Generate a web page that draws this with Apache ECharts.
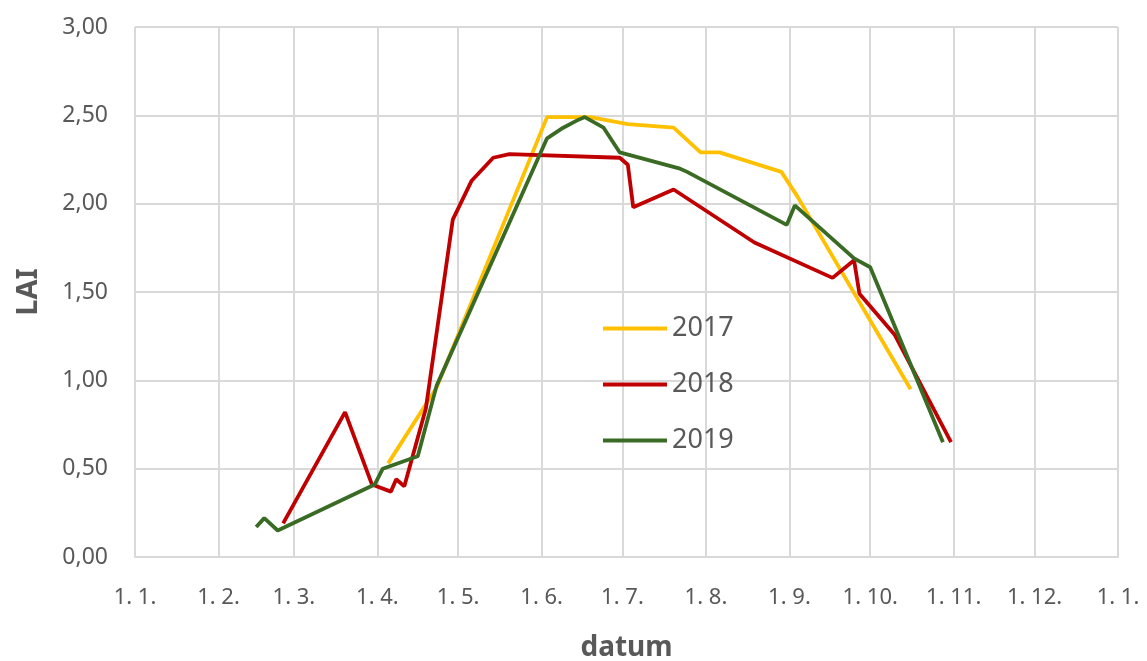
<!DOCTYPE html>
<html>
<head>
<meta charset="utf-8">
<script src="https://cdn.jsdelivr.net/npm/echarts@6/dist/echarts.min.js"></script>
<style>
html,body{margin:0;padding:0;background:#fff;}
#chart{width:1147px;height:661px;}
</style>
</head>
<body>
<div id="chart"></div>
<script>
// measured LAI values, dates as D.M.
var dates2017 = ['5.4.','23.4.','3.6.','19.6.','3.7.','20.7.','30.7.','6.8.','29.8.','4.9.','16.10.'];
var lai2017 = [0.53,0.96,2.49,2.49,2.45,2.43,2.29,2.29,2.18,2.04,0.95];

var dates2018 = ['25.2.','20.3.','30.3.','6.4.','8.4.','11.4.','19.4.','29.4.','6.5.','14.5.','20.5.','30.6.','3.7.','5.7.','20.7.','19.8.','17.9.','25.9.','27.9.','10.10.','31.10.'];
var lai2018 = [0.19,0.82,0.41,0.37,0.44,0.40,0.84,1.91,2.13,2.26,2.28,2.26,2.22,1.98,2.08,1.78,1.58,1.68,1.49,1.26,0.65];

var dates2019 = ['15.2.','18.2.','23.2.','31.3.','3.4.','16.4.','23.4.','3.6.','9.6.','14.6.','17.6.','24.6.','30.6.','22.7.','25.7.','31.8.','3.9.','25.9.','1.10.','28.10.'];
var lai2019 = [0.17,0.22,0.15,0.41,0.50,0.57,0.97,2.37,2.43,2.47,2.49,2.43,2.29,2.20,2.18,1.88,1.99,1.69,1.64,0.65];

var seriesNames = ['2017','2018','2019'];
var colors = ['#FFC000','#C00000','#3A6B24'];

// one category per day, 1.1. to 1.1. of next year
var days = [];
var monthStart = [];
for (var i = 0; i <= 365; i++) {
    var d = new Date(2017, 0, 1 + i);
    days.push(d.getDate() + '. ' + (d.getMonth() + 1) + '.');
    monthStart.push(d.getDate() === 1);
}

function dayIndex(s) {
    var p = s.split('.');
    var d = new Date(2017, parseInt(p[1]) - 1, parseInt(p[0]));
    return Math.round((d - new Date(2017, 0, 1)) / 86400000);
}

function toPairs(dates, vals) {
    var out = [];
    for (var i = 0; i < dates.length; i++) {
        out.push([dayIndex(dates[i]), vals[i]]);
    }
    return out;
}

var dataSets = [toPairs(dates2017, lai2017), toPairs(dates2018, lai2018), toPairs(dates2019, lai2019)];

var series = [];
for (var k = 0; k < seriesNames.length; k++) {
    series.push({
        name: seriesNames[k],
        type: 'line',
        symbol: 'none',
        data: dataSets[k],
        lineStyle: {color: colors[k], width: 3.8},
        itemStyle: {color: colors[k]}
    });
}

var font = 'Noto Sans';
var chart = echarts.init(document.getElementById('chart'));
chart.setOption({
    animation: false,
    backgroundColor: '#fff',
    grid: {left: 135, right: 29, top: 27, bottom: 104, containLabel: false, outerBoundsMode: 'none'},
    legend: {
        orient: 'vertical',
        left: 598,
        top: 310,
        icon: 'rect',
        itemWidth: 64,
        itemHeight: 4,
        itemGap: 29,
        textStyle: {fontFamily: font, fontSize: 27, color: '#595959'},
        data: seriesNames
    },
    xAxis: {
        type: 'category',
        data: days,
        boundaryGap: false,
        name: 'datum',
        nameLocation: 'middle',
        nameGap: 77,
        nameTextStyle: {fontFamily: font, fontSize: 28, fontWeight: 'bold', color: '#595959'},
        axisLine: {lineStyle: {color: '#D9D9D9', width: 2}},
        axisTick: {show: false},
        axisLabel: {
            interval: function (idx) { return monthStart[idx]; },
            fontFamily: font,
            fontSize: 22,
            color: '#595959',
            margin: 30
        },
        splitLine: {
            show: true,
            interval: function (idx) { return monthStart[idx]; },
            lineStyle: {color: '#D9D9D9', width: 2}
        }
    },
    yAxis: {
        type: 'value',
        min: 0,
        max: 3,
        interval: 0.5,
        name: 'LAI',
        nameLocation: 'middle',
        nameRotate: 90,
        nameGap: 92,
        nameTextStyle: {fontFamily: font, fontSize: 29, fontWeight: 'bold', color: '#595959'},
        axisLine: {show: false},
        axisTick: {show: false},
        axisLabel: {
            fontFamily: font,
            fontSize: 23,
            color: '#595959',
            margin: 27,
            formatter: function (v) { return v.toFixed(2).replace('.', ','); }
        },
        splitLine: {lineStyle: {color: '#D9D9D9', width: 2}}
    },
    series: series
});
</script>
</body>
</html>
